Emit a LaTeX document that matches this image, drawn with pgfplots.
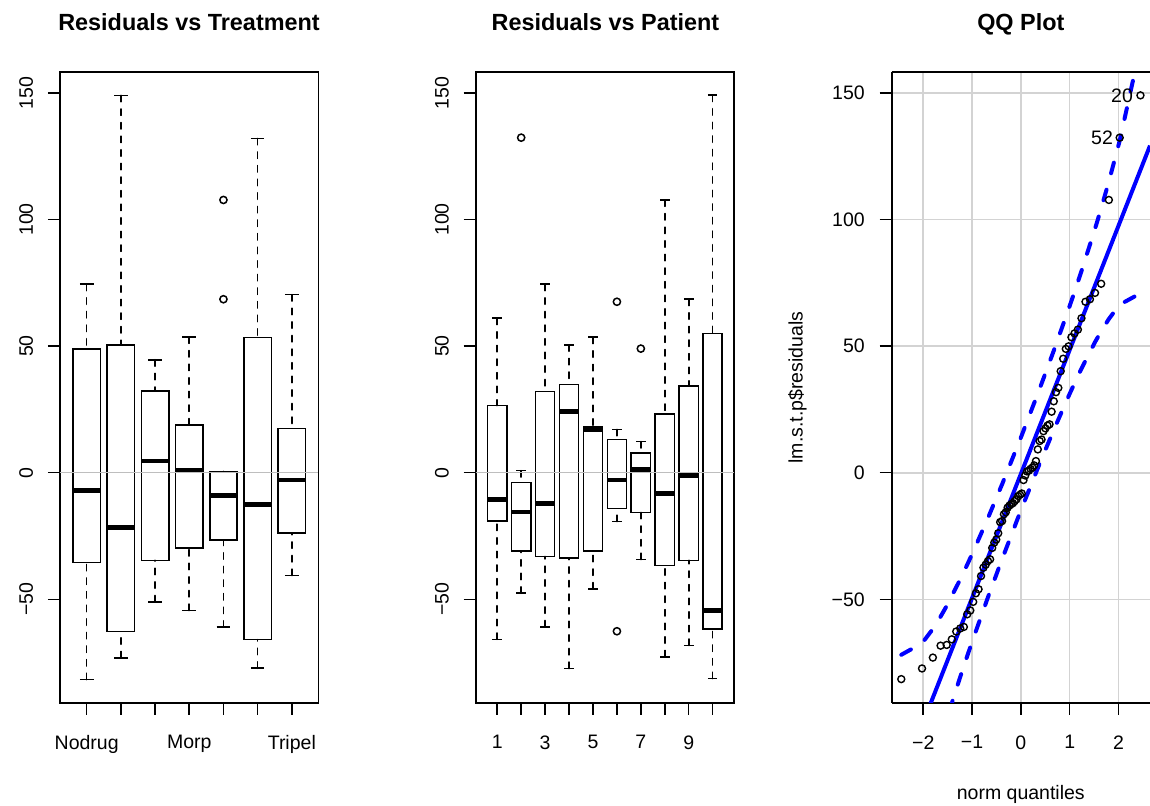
\documentclass[border=0pt]{standalone}
\usepackage{fontspec}
\setmainfont{Liberation Sans}
\usepackage{pgfplots}
\pgfplotsset{compat=1.18}
\usepgfplotslibrary{statistics}
\definecolor{lgray}{HTML}{D3D3D3}
\definecolor{zgray}{HTML}{BEBEBE}
\definecolor{rblue}{HTML}{0000FF}
\newcommand{\tfont}{\fontsize{9.75}{11}\selectfont}
\pgfplotsset{
  rbase/.style={
    scale only axis, width=129.25pt, height=315.5pt,
    ymin=-90.93, ymax=158.23,
    axis line style={line width=0.85pt},
    tick align=outside, tick pos=left, major tick length=6pt,
    every tick/.style={black, line width=0.75pt},
    tick label style={font=\tfont, inner sep=0pt},
    xticklabel style={anchor=north},
    xticklabel shift=10pt,
    ytick={-50,0,50,100,150},
    yticklabels={−50,0,50,100,150},
    clip=true,
  },
  rbp/.style={
    black, line width=0.8pt, mark=o, mark size=1.8pt,
    mark options={solid, line width=0.75pt},
    boxplot/draw direction=y,
    boxplot/box extend=0.8, boxplot/whisker extend=0.4,
    boxplot/every median/.style={line width=2.4pt},
    boxplot/draw/lower whisker/.code={%
      \draw[dash pattern=on 3.2pt off 3.6pt, line cap=round]
        (boxplot cs:\pgfplotsboxplotvalue{lower whisker}) --
        (boxplot cs:\pgfplotsboxplotvalue{lower quartile});
      \draw[solid]
        (boxplot whisker cs:\pgfplotsboxplotvalue{lower whisker},0) --
        (boxplot whisker cs:\pgfplotsboxplotvalue{lower whisker},1);
    },
    boxplot/draw/upper whisker/.code={%
      \draw[dash pattern=on 3.2pt off 3.6pt, line cap=round]
        (boxplot cs:\pgfplotsboxplotvalue{upper whisker}) --
        (boxplot cs:\pgfplotsboxplotvalue{upper quartile});
      \draw[solid]
        (boxplot whisker cs:\pgfplotsboxplotvalue{upper whisker},0) --
        (boxplot whisker cs:\pgfplotsboxplotvalue{upper whisker},1);
    },
  },
}
% position, lower whisker, Q1, median, Q3, upper whisker, outliers
\newcommand{\bx}[7]{\addplot[rbp, boxplot prepared={draw position=#1,
  lower whisker=#2, lower quartile=#3, median=#4, upper quartile=#5,
  upper whisker=#6}] coordinates {#7};}

\begin{document}
\begin{tikzpicture}
\path[use as bounding box] (0,0) rectangle (575pt,403pt);

% ---------- Panel 1: Residuals vs Treatment
\begin{axis}[rbase, at={(30pt,51.5pt)}, anchor=south west,
  xmin=0.22, xmax=7.78,
  xtick={1,2,3,4,5,6,7},
  xticklabels={Nodrug,,,Morp,,,Tripel},
  yticklabel style={rotate=90, anchor=south},
  yticklabel shift=7.3pt]
\bx{1}{-81.7}{-35.4}{-7.0}{48.8}{74.4}{}
\bx{2}{-73.1}{-62.7}{-21.7}{50.4}{149.0}{}
\bx{3}{-51.0}{-34.6}{4.6}{32.2}{44.6}{}
\bx{4}{-54.4}{-29.7}{1.1}{18.9}{53.6}{}
\bx{5}{-61.0}{-26.6}{-8.9}{0.5}{0.5}{(5,107.7) (5,68.5)}
\bx{6}{-77.2}{-65.9}{-12.4}{53.4}{132.0}{}
\bx{7}{-40.6}{-23.8}{-2.9}{17.5}{70.3}{}
\addplot[zgray, line width=0.75pt] coordinates {(0.22,0) (7.78,0)};
\end{axis}

% ---------- Panel 2: Residuals vs Patient
\begin{axis}[rbase, at={(237.85pt,51.5pt)}, anchor=south west,
  xmin=0.1, xmax=10.9,
  xtick={1,2,3,4,5,6,7,8,9,10},
  xticklabels={1,,3,,5,,7,,9,},
  yticklabel style={rotate=90, anchor=south},
  yticklabel shift=7.3pt]
\bx{1}{-65.8}{-19.1}{-10.5}{26.5}{61.0}{}
\bx{2}{-47.6}{-30.9}{-15.5}{-3.9}{0.8}{(2,132.3)}
\bx{3}{-60.9}{-33.1}{-12.0}{32.1}{74.4}{}
\bx{4}{-77.3}{-33.7}{24.1}{34.8}{50.5}{}
\bx{5}{-45.9}{-30.9}{17.0}{18.2}{53.5}{}
\bx{6}{-19.3}{-14.1}{-2.9}{13.1}{17.1}{(6,67.5) (6,-62.6)}
\bx{7}{-34.3}{-15.7}{1.2}{7.7}{12.3}{(7,49.0)}
\bx{8}{-72.7}{-36.7}{-8.3}{23.3}{107.7}{}
\bx{9}{-68.2}{-34.6}{-1.1}{34.3}{68.5}{}
\bx{10}{-81.3}{-61.8}{-54.4}{55.0}{149.1}{}
\addplot[zgray, line width=0.75pt] coordinates {(0.1,0) (10.9,0)};
\end{axis}

% ---------- Panel 3: QQ plot
\begin{axis}[rbase, at={(445.85pt,51.5pt)}, anchor=south west,
  width=129.15pt,
  axis x line*=box, axis y line*=left,
  xmin=-2.646, xmax=2.646,
  xtick={-2,-1,0,1,2},
  xticklabels={−2,−1,0,1,2},
  yticklabel style={anchor=east},
  yticklabel shift=7.3pt,
  grid=major, grid style={lgray, line width=0.8pt}]
\addplot[only marks, mark=o, mark size=1.75pt, mark options={black, line width=0.7pt}]
 table {
 z y
 -2.450 -81.5
 -2.025 -77.3
 -1.803 -73.0
 -1.645 -68.3
 -1.519 -68.0
 -1.415 -65.8
 -1.324 -62.7
 -1.242 -61.5
 -1.168 -60.9
 -1.099 -55.9
 -1.036 -54.4
 -0.977 -51.0
 -0.921 -47.6
 -0.867 -46.0
 -0.816 -40.8
 -0.767 -37.5
 -0.720 -36.3
 -0.674 -34.9
 -0.630 -34.2
 -0.587 -29.7
 -0.545 -27.6
 -0.504 -26.4
 -0.464 -23.9
 -0.424 -19.5
 -0.385 -19.1
 -0.347 -16.4
 -0.309 -15.6
 -0.272 -13.8
 -0.235 -13.0
 -0.198 -12.4
 -0.162 -12.0
 -0.126 -11.2
 -0.090 -10.5
 -0.054 -9.2
 -0.018 -8.7
 0.018 -8.2
 0.054 -2.9
 0.090 -1.1
 0.126 0.5
 0.162 0.8
 0.198 1.5
 0.235 2.0
 0.272 2.9
 0.309 4.6
 0.347 9.2
 0.385 12.5
 0.424 13.1
 0.464 16.4
 0.504 17.5
 0.545 18.6
 0.587 19.1
 0.630 24.1
 0.674 28.2
 0.720 31.8
 0.767 33.5
 0.816 40.1
 0.867 45.0
 0.921 48.9
 0.977 49.9
 1.036 53.5
 1.099 55.0
 1.168 56.5
 1.242 61.0
 1.324 67.5
 1.415 68.5
 1.519 71.0
 1.645 74.6
 1.803 107.7
 2.025 132.3
 2.450 149.0
 };
\addplot[rblue, line width=2pt] coordinates {(-2.646,-130.15) (2.646,129.15)};
\addplot[rblue, line width=2pt, dash pattern=on 5.5pt off 8.5pt, line cap=round] coordinates {
 (-2.450,-71.9) (-2.025,-67.35) (-1.803,-61.7) (-1.645,-56.84) (-1.519,-52.56)
 (-1.242,-42.11) (-1.099,-36.32) (-0.977,-31.19) (-0.674,-17.89) (-0.385,-4.59)
 (-0.018,13.01) (0.018,14.77) (0.385,33.15) (0.674,48.17) (0.977,64.55)
 (1.099,71.38) (1.242,79.61) (1.519,96.30) (1.645,104.36) (1.803,114.98)
 (2.025,131.11) (2.450,168.25)};
\addplot[rblue, line width=2pt, dash pattern=on 5.5pt off 8.5pt, line cap=round] coordinates {
 (-2.450,-169.2) (-2.025,-132.1) (-1.803,-116.0) (-1.645,-105.36) (-1.519,-97.3)
 (-1.242,-80.61) (-1.099,-72.38) (-0.977,-65.55) (-0.674,-49.17) (-0.385,-34.15)
 (-0.018,-15.77) (0.018,-14.01) (0.385,3.59) (0.674,16.89) (0.977,30.19)
 (1.099,35.32) (1.242,41.11) (1.519,51.56) (1.645,55.84) (1.803,60.72)
 (2.025,66.35) (2.450,70.85)};
\node[font=\tfont, anchor=east, inner sep=0pt, xshift=-3.6pt] at (axis cs:2.450,149.0) {20};
\node[font=\tfont, anchor=east, inner sep=0pt, xshift=-3.2pt] at (axis cs:2.025,132.3) {52};
\end{axis}

% ---------- titles and axis labels
\node[font=\fontsize{11.7}{14}\selectfont\bfseries, anchor=base] at (94.5pt,387.5pt) {Residuals vs Treatment};
\node[font=\fontsize{11.7}{14}\selectfont\bfseries, anchor=base] at (302.7pt,387.5pt) {Residuals vs Patient};
\node[font=\fontsize{11.7}{14}\selectfont\bfseries, anchor=base] at (510.4pt,387.5pt) {QQ Plot};
\node[font=\tfont, anchor=north, inner sep=0pt] at (510.4pt,10.5pt) {norm quantiles};
\node[font=\tfont, anchor=south, rotate=90, inner sep=0pt] at (403.5pt,209.25pt) {lm.s.t.p\$residuals};
\end{tikzpicture}
\end{document}
